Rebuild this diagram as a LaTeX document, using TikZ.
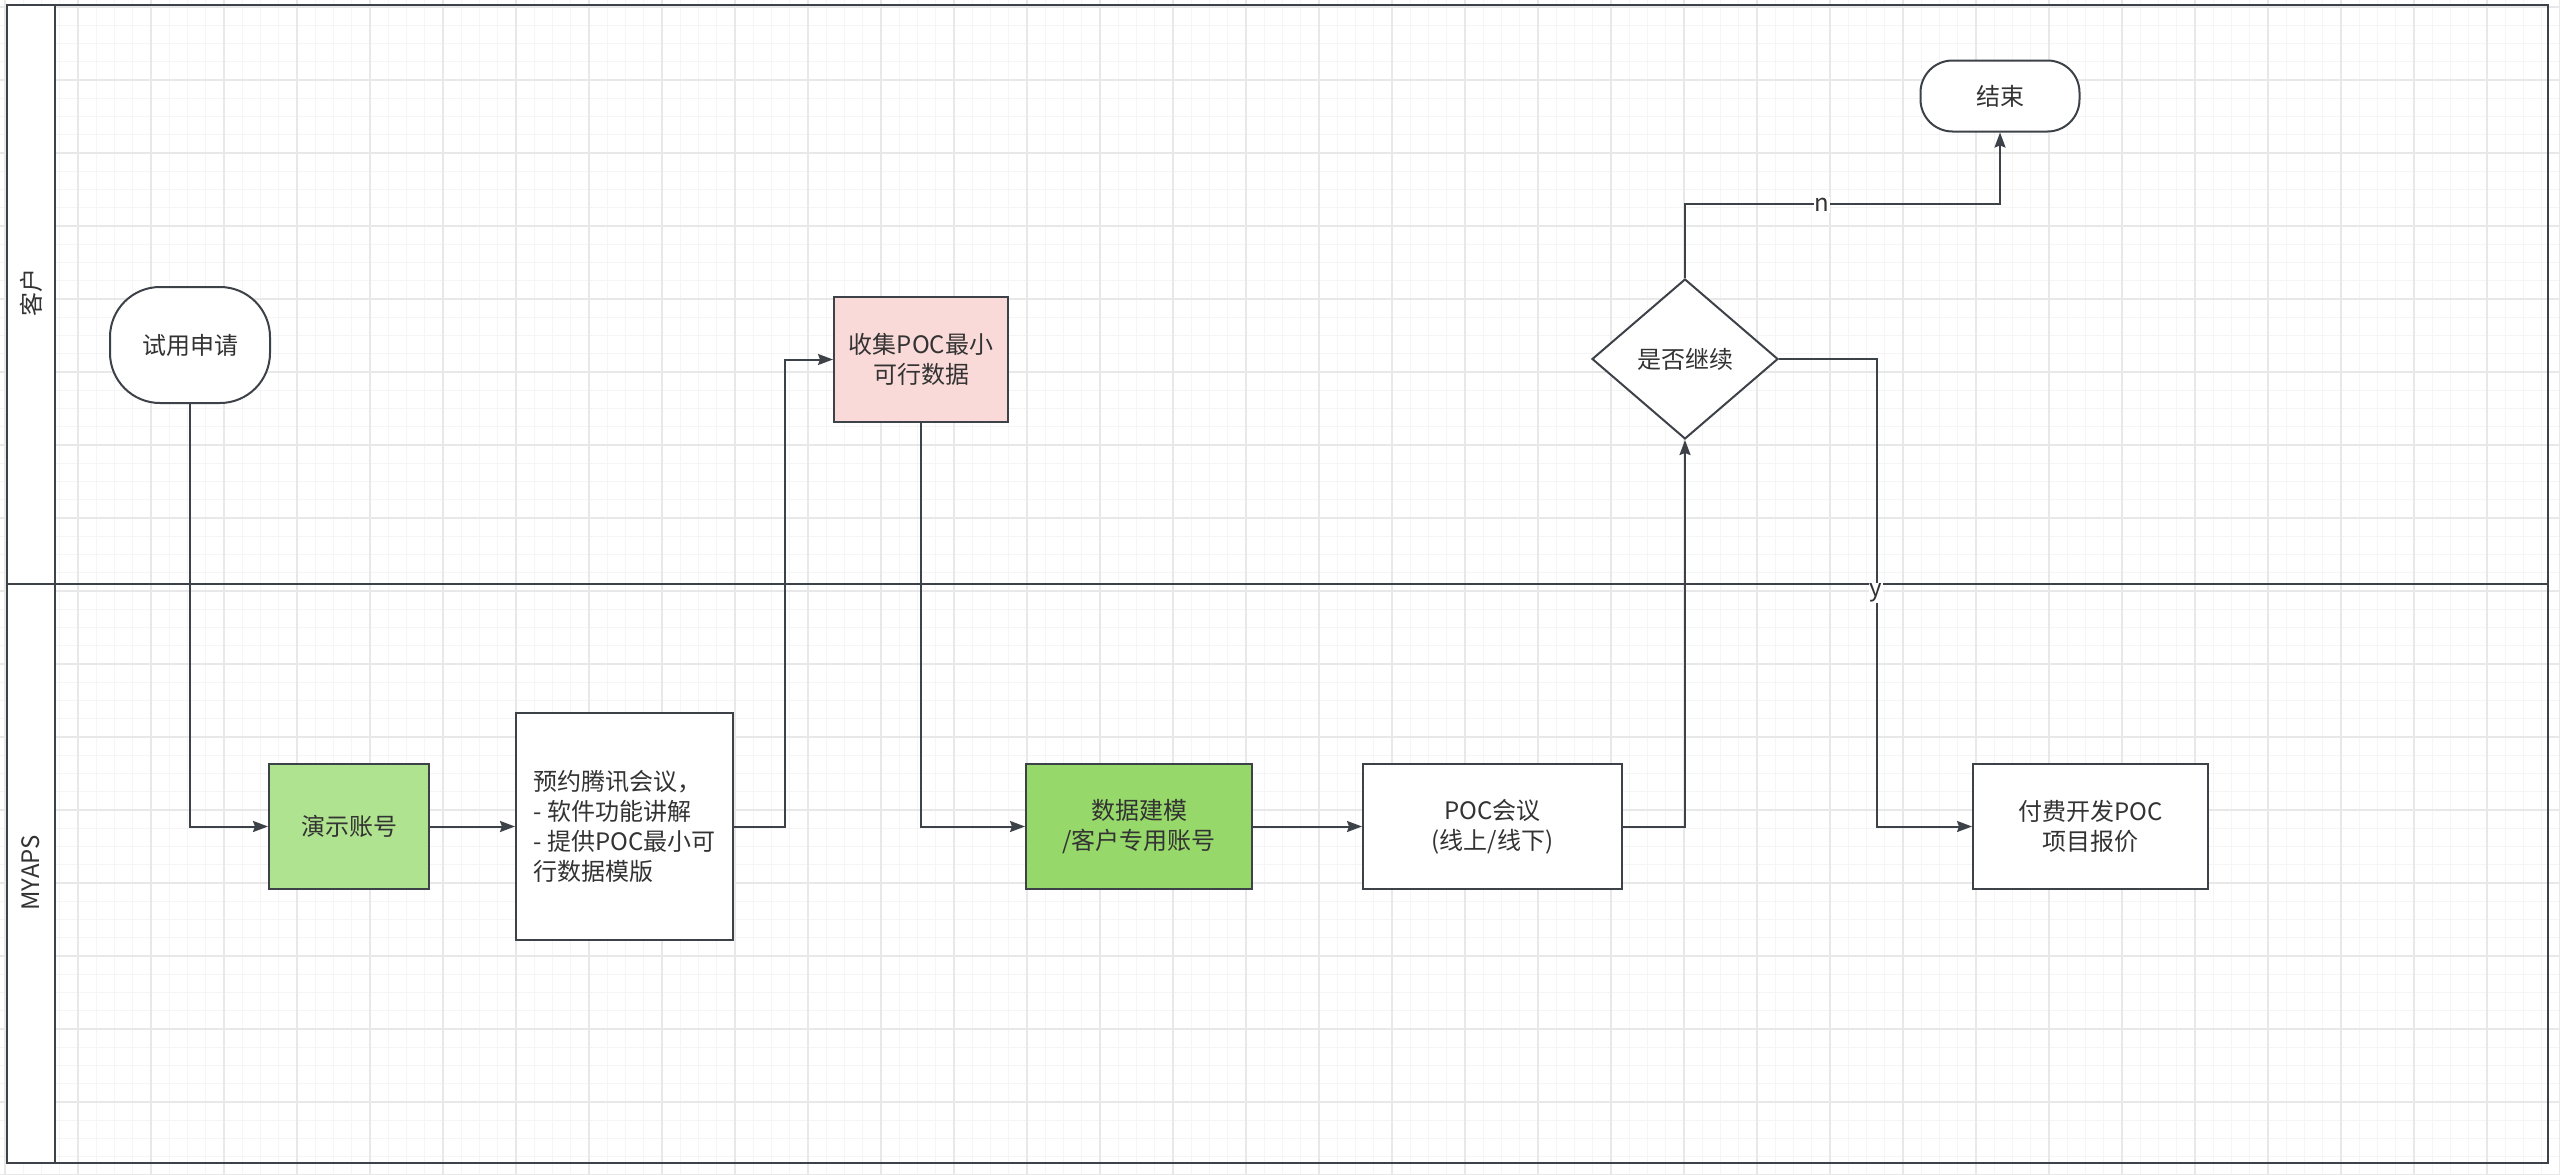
\documentclass[tikz,border=0pt]{standalone}
\usepackage{fontspec}
\setmainfont{Noto Sans CJK SC}
\usetikzlibrary{arrows.meta,shapes.geometric}
\definecolor{lc}{RGB}{61,65,72}
\definecolor{tc}{RGB}{51,51,51}
\definecolor{gminor}{RGB}{245,245,245}
\definecolor{gmajor}{RGB}{232,232,232}
\definecolor{greenA}{RGB}{176,227,143}
\definecolor{greenB}{RGB}{151,216,106}
\definecolor{pinkA}{RGB}{250,218,216}
\tikzset{
  boxnode/.style={draw=lc, line width=2pt, fill=white, inner sep=0pt, align=center, text=tc, font=\fontsize{24}{30}\selectfont},
  decnode/.style={boxnode, shape=diamond, aspect=1.1625},
  conn/.style={draw=lc, line width=2pt, -{Stealth[length=15pt,width=11pt,inset=2pt]}},
  lbl/.style={fill=white, inner sep=1pt, text=tc, font=\fontsize{24}{30}\selectfont},
  lanelbl/.style={text=tc, rotate=90, font=\fontsize{24}{30}\selectfont},
}
\begin{document}
\begin{tikzpicture}[x=1pt,y=-1pt]
\useasboundingbox (0,0) rectangle (2560,1175);
\fill[white] (0,0) rectangle (2560,1175);
% grid
\foreach \i in {0,...,140} {\draw[gminor, line width=1pt] ({5+18.25*\i},0) -- ++(0,1175);}
\foreach \i in {0,...,64} {\draw[gminor, line width=1pt] (0,{7+18.25*\i}) -- ++(2560,0);}
\foreach \i in {0,...,35} {\draw[gmajor, line width=1.2pt] ({5+73*\i},0) -- ++(0,1175);}
\foreach \i in {0,...,16} {\draw[gmajor, line width=1.2pt] (0,{7+73*\i}) -- ++(2560,0);}
% pool
\fill[white] (7,5) rectangle (55,1163);
\draw[lc, line width=2.5pt] (7,5) rectangle (2548,1163);
\draw[lc, line width=2.5pt] (55,5) -- (55,1163);
\draw[lc, line width=2.5pt] (7,584) -- (2548,584);
\node[lanelbl] (lane1) at (31,292) {客户};
\node[lanelbl] (lane2) at (31,873) {MYAPS};
% nodes
\node[boxnode, minimum width=160pt, minimum height=116pt, rounded corners=50pt] (s1) at (190,345) {试用申请};
\node[boxnode, minimum width=159pt, minimum height=71pt, rounded corners=32pt] (end) at (2000,96) {结束};
\node[boxnode, fill=greenA, minimum width=160pt, minimum height=125pt] (a1) at (349,826.5) {演示账号};
\node[boxnode, align=left, minimum width=217pt, minimum height=227pt] (b1) at (624.5,826.5) {预约腾讯会议，\\- 软件功能讲解\\- 提供POC最小可\\行数据模版};
\node[boxnode, fill=pinkA, minimum width=174pt, minimum height=125pt] (c1) at (921,359.5) {收集POC最小\\可行数据};
\node[boxnode, fill=greenB, minimum width=226pt, minimum height=125pt] (d1) at (1139,826.5) {数据建模\\/客户专用账号};
\node[boxnode, minimum width=259pt, minimum height=125pt] (e1) at (1492.5,826.5) {POC会议\\(线上/线下)};
\node[decnode, minimum width=186pt, minimum height=160pt] (dec) at (1685,359) {是否继续};
\node[boxnode, minimum width=235pt, minimum height=125pt] (f1) at (2090.5,826.5) {付费开发POC\\项目报价};
% connectors
\draw[conn] (s1.south) |- (a1.west);
\draw[conn] (a1.east) -- (b1.west);
\draw[conn] (b1.east) -- ++(51,0) |- (c1.west);
\draw[conn] (c1.south) |- (d1.west);
\draw[conn] (d1.east) -- (e1.west);
\draw[conn] (e1.east) -| (dec.south);
\draw[conn] (dec.north) -- ++(0,-74) -| (end.south);
\draw[conn] (dec.east) -- ++(98,0) |- (f1.west);
\node[lbl] (nlab) at (1822,205) {n};
\node[lbl] (ylab) at (1876,593) {y};
\end{tikzpicture}
\end{document}
